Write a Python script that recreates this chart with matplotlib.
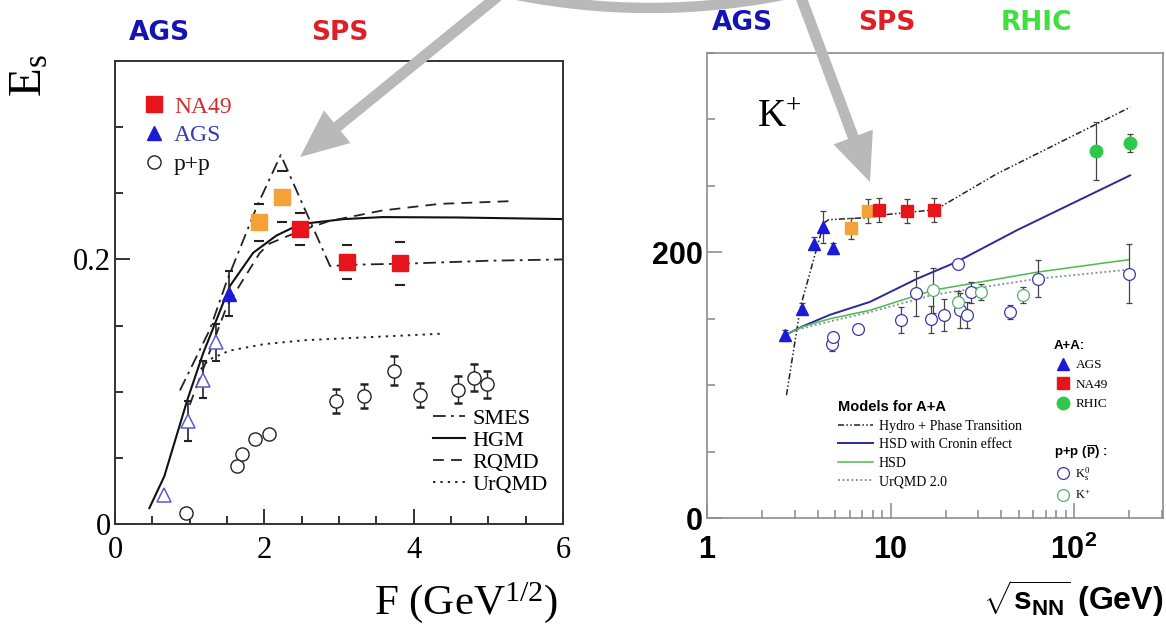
import numpy as np
import matplotlib.pyplot as plt
from matplotlib.patches import FancyArrow, PathPatch
from matplotlib.path import Path
from matplotlib.ticker import MultipleLocator, LogLocator, NullFormatter, FixedLocator

plt.rcParams['mathtext.fontset'] = 'custom'
plt.rcParams['mathtext.rm'] = 'Liberation Serif'
plt.rcParams['mathtext.it'] = 'Liberation Serif:italic'
plt.rcParams['mathtext.bf'] = 'Liberation Sans:bold'

SERIF = 'Liberation Serif'
SANS = 'Liberation Sans'

# ---------------- left panel: E_s vs F ----------------
F_na49 = [2.48, 3.11, 3.82]
Es_na49 = [0.223, 0.198, 0.197]
Es_na49_err = [0.012, 0.013, 0.016]

F_na49_low = [1.93, 2.24]
Es_na49_low = [0.228, 0.2475]
Es_na49_low_err = [0.014, 0.019]

F_ags = [1.53]
Es_ags = [0.174]
Es_ags_err = [0.017]

F_ags_open = [0.66, 0.98, 1.18, 1.35]
Es_ags_open = [0.022, 0.078, 0.109, 0.1375]
Es_ags_open_err = [0.0, 0.015, 0.014, 0.014]

F_pp = [0.945, 1.64, 1.70, 1.88, 2.06, 2.96, 3.33, 3.74, 4.08, 4.59, 4.81, 4.98]
Es_pp = [0.008, 0.044, 0.053, 0.0646, 0.068, 0.093, 0.0968, 0.116, 0.0978, 0.1016, 0.1106, 0.1056]
Es_pp_err = [0, 0, 0, 0, 0, 0.009, 0.009, 0.011, 0.009, 0.010, 0.010, 0.010]

F_smes = [0.87, 1.27, 1.5, 1.9, 2.22, 2.88, 3.2, 4.0, 5.0, 6.0]
Es_smes = [0.101, 0.147, 0.184, 0.240, 0.279, 0.195, 0.196, 0.197, 0.199, 0.200]
F_hgm = [0.46, 0.66, 0.97, 1.18, 1.54, 1.85, 2.16, 2.48, 3.07, 3.58, 4.6, 6.0]
Es_hgm = [0.012, 0.036, 0.094, 0.129, 0.180, 0.205, 0.218, 0.2267, 0.2305, 0.232, 0.2317, 0.2305]
F_rqmd = [1.0, 1.2, 1.5, 1.94, 2.07, 2.5, 2.87, 3.58, 4.35, 5.27]
Es_rqmd = [0.09, 0.12, 0.165, 0.205, 0.212, 0.222, 0.229, 0.237, 0.242, 0.244]
F_urqmd = [1.15, 1.25, 1.53, 2.0, 2.56, 3.58, 4.35]
Es_urqmd = [0.117, 0.124, 0.131, 0.136, 0.139, 0.1417, 0.1438]

# ---------------- right panel: K+ slope vs sqrt(s_NN) ----------------
s_ags = [2.65, 3.30, 3.83, 4.29, 4.87]
T_ags = [137.5, 157.5, 206.5, 219, 203]
T_ags_err = [4, 4, 5, 12, 4]

s_na49_low = [6.09, 7.54]
T_na49_low = [218, 231]
T_na49_low_err = [8, 9]

s_na49 = [8.65, 12.3, 17.2]
T_na49 = [231.5, 231, 232]
T_na49_err = [9, 9, 9]

s_rhic = [131, 202]
T_rhic = [276, 282]
T_rhic_err = [22, 7]

s_pp_k0 = [4.78, 4.84, 6.68, 11.4, 13.8, 16.6, 19.6, 23.4, 23.9, 26.0, 27.5, 44.8, 63.4, 200]
T_pp_k0 = [131, 136, 142, 149, 169, 149.5, 153, 191.5, 156.4, 152.7, 170, 155, 180, 184]
T_pp_k0_err = [5, 4, 0, 10, 17, 10, 12, 0, 13, 10, 8, 5, 14, 22]

s_pp_kp = [17.1, 23.3, 31.1, 53.0]
T_pp_kp = [171.5, 162.7, 170, 167.7]
T_pp_kp_err = [17, 8, 6, 6]

s_hydro = [2.71, 3.23, 4.33, 4.6, 7.5, 9.0, 17.6, 38, 202]
T_hydro = [92.6, 159, 222, 224.5, 226, 228, 232, 259, 309]
s_cronin = [2.65, 3.28, 4.68, 7.73, 13.9, 22.9, 48.7, 202]
T_cronin = [137.5, 144, 153, 162.7, 180, 192.7, 216.5, 257.8]
s_hsd = [2.65, 3.28, 4.68, 7.73, 17.1, 62.6, 200]
T_hsd = [137.5, 143.9, 150, 156.4, 171.5, 185, 194.5]
s_urqmd2 = [2.94, 4.68, 7.73, 17.1, 62.6, 200]
T_urqmd2 = [141, 148, 155, 168, 180, 187]

fig = plt.figure(figsize=(11.66, 6.27), dpi=100)
ax = fig.add_axes([115 / 1166, 103 / 627, 448 / 1166, 463 / 627])
axr = fig.add_axes([707 / 1166, 108.7 / 627, 456 / 1166, 465.6 / 627])

# ---- left panel ----
l_smes, = ax.plot(F_smes, Es_smes, color='#222222', lw=1.3, ls=(0, (7, 3, 1.5, 3)))
l_hgm, = ax.plot(F_hgm, Es_hgm, color='#111111', lw=1.5)
l_rqmd, = ax.plot(F_rqmd, Es_rqmd, color='#222222', lw=1.3, ls=(0, (6, 4)))
l_urq, = ax.plot(F_urqmd, Es_urqmd, color='#222222', lw=1.4, ls=(0, (1.2, 2.6)))

ax.errorbar(F_na49, Es_na49, yerr=Es_na49_err, fmt='none', ecolor='#222222',
            elinewidth=0, capsize=3.5, capthick=1.5)
ax.errorbar(F_na49_low, Es_na49_low, yerr=Es_na49_low_err, fmt='none', ecolor='#222222',
            elinewidth=0, capsize=3.5, capthick=1.5)
ax.errorbar(F_ags, Es_ags, yerr=Es_ags_err, fmt='none', ecolor='#222222',
            elinewidth=1.2, capsize=3, capthick=1.5)
err = np.array(Es_ags_open_err)
m = err > 0
ax.errorbar(np.array(F_ags_open)[m], np.array(Es_ags_open)[m], yerr=err[m], fmt='none',
            ecolor='#222222', elinewidth=1.2, capsize=3, capthick=1.5)
err = np.array(Es_pp_err)
m = err > 0
ax.errorbar(np.array(F_pp)[m], np.array(Es_pp)[m], yerr=err[m], fmt='none',
            ecolor='#222222', elinewidth=1.0, capsize=3, capthick=1.8)

h_na49, = ax.plot(F_na49, Es_na49, 's', color='#e8141c', ms=11.5, zorder=5)
ax.plot(F_na49_low, Es_na49_low, 's', color='#f4a13a', ms=11.5, zorder=5)
h_ags, = ax.plot(F_ags, Es_ags, '^', color='#1a1ad8', ms=10, zorder=5)
ax.plot(F_ags_open, Es_ags_open, '^', mfc='white', mec='#5a5ad0', mew=1.1, ms=10, zorder=5)
h_pp, = ax.plot(F_pp, Es_pp, 'o', mfc='white', mec='#222222', mew=1.0, ms=9.5, zorder=5)

ax.set_xlim(0, 6)
ax.set_ylim(0, 0.35)
ax.xaxis.set_major_locator(FixedLocator([0, 2, 4, 6]))
ax.xaxis.set_minor_locator(MultipleLocator(0.5))
ax.yaxis.set_major_locator(FixedLocator([0, 0.2]))
ax.yaxis.set_minor_locator(MultipleLocator(0.05))
ax.set_yticklabels(['0', '0.2'])
ax.tick_params(which='both', direction='in', color='#222222', width=1.3,
               labelsize=22, top=False, right=False)
ax.tick_params(which='major', length=11)
ax.tick_params(which='minor', length=6)
ax.tick_params(axis='x', pad=9)
ax.tick_params(axis='y', pad=3)
for lab in ax.get_xticklabels() + ax.get_yticklabels():
    lab.set_fontfamily(SERIF)
for sp in ax.spines.values():
    sp.set_color('#333333')
    sp.set_linewidth(1.4)

leg1 = ax.legend([h_na49, h_ags, h_pp], ['NA49', 'AGS', 'p+p'], loc='upper left',
                 bbox_to_anchor=(0.06, 0.924), frameon=False, borderpad=0, borderaxespad=0,
                 handlelength=1.0, handletextpad=0.36, labelspacing=0.3, numpoints=1,
                 prop={'family': SERIF, 'size': 17})
for t, c in zip(leg1.get_texts(), ['#d03030', '#3a3ab8', '#111111']):
    t.set_color(c)
ax.add_artist(leg1)
ax.legend([l_smes, l_hgm, l_rqmd, l_urq], ['SMES', 'HGM', 'RQMD', 'UrQMD'], loc='upper left',
          bbox_to_anchor=(0.709, 0.25), frameon=False, borderpad=0, borderaxespad=0,
          handlelength=1.46, handletextpad=0.34, labelspacing=0.07,
          prop={'family': SERIF, 'size': 16})

# ---- right panel ----
l_hydro, = axr.plot(s_hydro, T_hydro, color='#222222', lw=1.1, ls=(0, (4, 1.5, 1, 1.5, 1, 1.5)))
l_cronin, = axr.plot(s_cronin, T_cronin, color='#2a2a9a', lw=1.4)
l_hsd, = axr.plot(s_hsd, T_hsd, color='#4cbb4c', lw=1.1)
l_urq2, = axr.plot(s_urqmd2, T_urqmd2, color='#8a96a6', lw=1.4, ls=(0, (1, 1.3)))

ekw = dict(fmt='none', ecolor='#444444', elinewidth=0.9, capsize=2.5, capthick=0.9)
axr.errorbar(s_ags, T_ags, yerr=T_ags_err, **ekw)
axr.errorbar(s_na49_low, T_na49_low, yerr=T_na49_low_err, **ekw)
axr.errorbar(s_na49, T_na49, yerr=T_na49_err, **ekw)
axr.errorbar(s_rhic, T_rhic, yerr=T_rhic_err, **ekw)
axr.errorbar(s_pp_k0, T_pp_k0, yerr=T_pp_k0_err, **ekw)
axr.errorbar(s_pp_kp, T_pp_kp, yerr=T_pp_kp_err, **ekw)

h_k0, = axr.plot(s_pp_k0, T_pp_k0, 'o', mfc='white', mec='#3a3ab0', mew=0.9, ms=8.5, zorder=5)
h_kp, = axr.plot(s_pp_kp, T_pp_kp, 'o', mfc='white', mec='#55b070', mew=0.9, ms=8.5, zorder=5)
h_ags_r, = axr.plot(s_ags, T_ags, '^', color='#1a1ad8', ms=8.5, zorder=6)
axr.plot(s_na49_low, T_na49_low, 's', color='#f4a13a', ms=9, zorder=6)
h_na49_r, = axr.plot(s_na49, T_na49, 's', color='#e8141c', ms=9, zorder=6)
h_rhic, = axr.plot(s_rhic, T_rhic, 'o', color='#2ec84a', ms=9, zorder=6)

axr.set_xscale('log')
axr.set_xlim(1, 305)
axr.set_ylim(0, 350)
axr.xaxis.set_major_locator(FixedLocator([1, 10, 100]))
axr.xaxis.set_minor_locator(LogLocator(subs=np.arange(2, 10)))
axr.xaxis.set_minor_formatter(NullFormatter())
axr.set_xticklabels(['1', '10', r'$\mathbf{10^{2}}$'])
axr.yaxis.set_major_locator(FixedLocator([0, 200]))
axr.yaxis.set_minor_locator(MultipleLocator(50))
axr.set_yticklabels(['0', '200'])
axr.tick_params(which='both', direction='in', color='#888888', width=1.1,
                labelsize=22, top=False, right=False)
axr.tick_params(which='major', length=11)
axr.tick_params(which='minor', length=6)
axr.tick_params(axis='x', pad=12)
axr.tick_params(axis='y', pad=3)
for lab in axr.get_xticklabels() + axr.get_yticklabels():
    lab.set_fontfamily(SANS)
    lab.set_fontweight('bold')
for sp in axr.spines.values():
    sp.set_color('#8c8c8c')
    sp.set_linewidth(1.2)

axr.text(0.11, 0.84, r'K$^{+}$', transform=axr.transAxes, fontsize=28, family=SERIF)

leg_m = axr.legend([l_hydro, l_cronin, l_hsd, l_urq2],
                   ['Hydro + Phase Transition', 'HSD with Cronin effect', 'HSD', 'UrQMD 2.0'],
                   title='Models for A+A', alignment='left', loc='upper left',
                   bbox_to_anchor=(0.287, 0.254), frameon=False, borderpad=0, borderaxespad=0,
                   handlelength=2.5, handletextpad=0.45, labelspacing=0.4,
                   prop={'family': SERIF, 'size': 10},
                   title_fontproperties={'family': SANS, 'weight': 'bold', 'size': 10.5})
axr.add_artist(leg_m)
leg_aa = axr.legend([h_ags_r, h_na49_r, h_rhic], ['AGS', 'NA49', 'RHIC'],
                    title='A+A:', alignment='left', loc='upper left',
                    bbox_to_anchor=(0.761, 0.383), frameon=False, borderpad=0, borderaxespad=0,
                    handlelength=1.36, handletextpad=0.3, labelspacing=0.55, numpoints=1,
                    prop={'family': SERIF, 'size': 9.5},
                    title_fontproperties={'family': SANS, 'weight': 'bold', 'size': 9.5})
axr.add_artist(leg_aa)
axr.legend([h_k0, h_kp], [r'K$^{0}_{\mathrm{s}}$', r'K$^{+}$'],
           title=r'p+p ($\overline{\mathbf{p}}$) :', alignment='left', loc='upper left',
           bbox_to_anchor=(0.761, 0.161), frameon=False, borderpad=0, borderaxespad=0,
           handlelength=1.36, handletextpad=0.3, labelspacing=0.4, numpoints=1,
           prop={'family': SERIF, 'size': 9},
           title_fontproperties={'family': SANS, 'weight': 'bold', 'size': 9.5})

# ---- figure-level labels and arrows (pixel coordinates) ----
ov = fig.add_axes([0, 0, 1, 1], zorder=10)
ov.set_xlim(0, 1166)
ov.set_ylim(627, 0)
ov.axis('off')
ov.patch.set_alpha(0)

tkw = dict(fontsize=19, fontweight='bold', family='DejaVu Sans', ha='center', va='center')
ov.text(159, 33, 'AGS', color='#1414b4', **tkw)
ov.text(340, 33, 'SPS', color='#e01e26', **tkw)
ov.text(742, 23, 'AGS', color='#1414b4', **tkw)
ov.text(887, 23, 'SPS', color='#e01e26', **tkw)
ov.text(1036, 23, 'RHIC', color='#3ee03e', **tkw)

ov.text(30, 76, r'E$_{\mathrm{s}}$', rotation=90, fontsize=34, family=SERIF,
        ha='center', va='center')
ov.text(466, 614, r'F (GeV$^{1/2}$)', fontsize=31, family=SERIF, ha='center', va='baseline')
ov.text(1163, 610, r'$\sqrt{\mathbf{s_{NN}}}$ (GeV)', fontsize=23, fontweight='bold',
        family=SANS, ha='right', va='baseline')

gray = '#b9b9b9'
ov.add_patch(FancyArrow(503, -8, -203, 165, width=11, head_width=42, head_length=48,
                        length_includes_head=True, fc=gray, ec='none'))
ov.add_patch(FancyArrow(799, -8, 71, 190, width=11, head_width=42, head_length=48,
                        length_includes_head=True, fc=gray, ec='none'))
arc = Path([(498, -9), (650, 25), (802, -9)], [Path.MOVETO, Path.CURVE3, Path.CURVE3])
ov.add_patch(PathPatch(arc, fill=False, ec=gray, lw=7.5, capstyle='butt'))

fig.savefig('out.png', dpi=100)
